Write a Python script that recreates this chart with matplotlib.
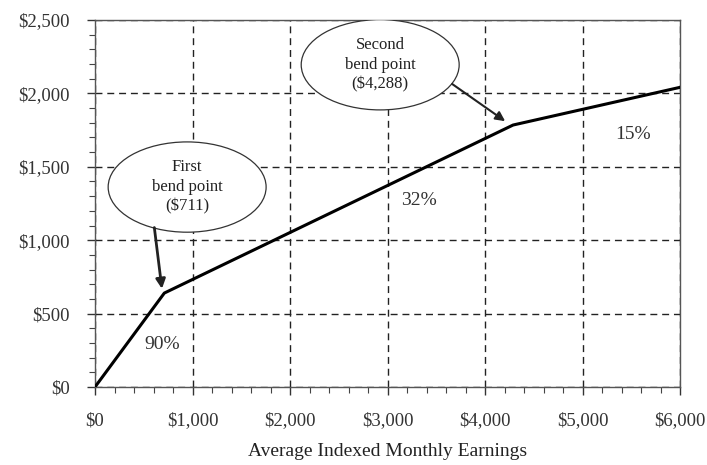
import matplotlib
matplotlib.use("Agg")
import matplotlib.pyplot as plt
from matplotlib.patches import Ellipse
from matplotlib.ticker import MultipleLocator, FuncFormatter

plt.rcParams['font.family'] = ['Liberation Serif', 'DejaVu Serif']

# Data
aime = [0, 711, 4288, 6000]
pia = [0, 639.9, 1784.54, 2041.34]
rate_labels = ["90%", "32%", "15%"]
rate_pos = [(690, 290), (3320, 1270), (5520, 1720)]
bend_labels = ["First\nbend point\n($711)", "Second\nbend point\n($4,288)"]
x_ticks = [0, 1000, 2000, 3000, 4000, 5000, 6000]
y_ticks = [0, 500, 1000, 1500, 2000, 2500]

fig = plt.figure(figsize=(7.07, 4.65), dpi=100)
ax = fig.add_axes([95/707, 1-387/465, 585/707, 367/465])

ax.plot(aime, pia, color='black', lw=2.2, zorder=3, solid_joinstyle='round')

ax.set_xlim(0, 6000)
ax.set_ylim(0, 2500)
ax.set_xticks(x_ticks)
ax.set_yticks(y_ticks)
ax.xaxis.set_minor_locator(MultipleLocator(200))
ax.yaxis.set_minor_locator(MultipleLocator(100))
fmt = FuncFormatter(lambda v, p: "$" + format(int(v), ","))
ax.xaxis.set_major_formatter(fmt)
ax.yaxis.set_major_formatter(fmt)
ax.tick_params(which='major', direction='out', length=6, width=1, color='#333333',
               labelsize=13.5, labelcolor='#333333')
ax.tick_params(axis='x', which='major', pad=12)
ax.tick_params(axis='y', which='major', pad=12)
ax.tick_params(which='minor', direction='out', length=4, width=0.8, color='#444444')

ax.grid(True, which='major', color='#222222', linestyle=(0, (5, 3.5)), lw=1.0)
for s in ax.spines.values():
    s.set_color('#555555')
    s.set_linewidth(1.0)

ax.set_xlabel("Average Indexed Monthly Earnings", fontsize=14, color='#222222', labelpad=10)

# Rates
for t, (x, y) in zip(rate_labels, rate_pos):
    ax.text(x, y, t, fontsize=14, color='#333333', ha='center', va='center', zorder=4)

# Ellipses
ell_centers = [(945, 1362), (2925, 2195)]
for (cx, cy), lab in zip(ell_centers, bend_labels):
    e = Ellipse((cx, cy), 1620, 615, facecolor='white', edgecolor='#333333', lw=0.9, zorder=5)
    ax.add_patch(e)
    ax.text(cx, cy, lab, fontsize=12, color='#222222', ha='center', va='center',
            linespacing=1.3, zorder=6)

# Arrows
ax.annotate("", xy=(690, 650), xytext=(605, 1105),
            arrowprops=dict(arrowstyle='-|>', color='#222222', lw=2.0, mutation_scale=14),
            zorder=6)
ax.annotate("", xy=(4230, 1800), xytext=(3640, 2075),
            arrowprops=dict(arrowstyle='-|>', color='#222222', lw=1.5, mutation_scale=14),
            zorder=6)

fig.savefig("out.png", dpi=100)
